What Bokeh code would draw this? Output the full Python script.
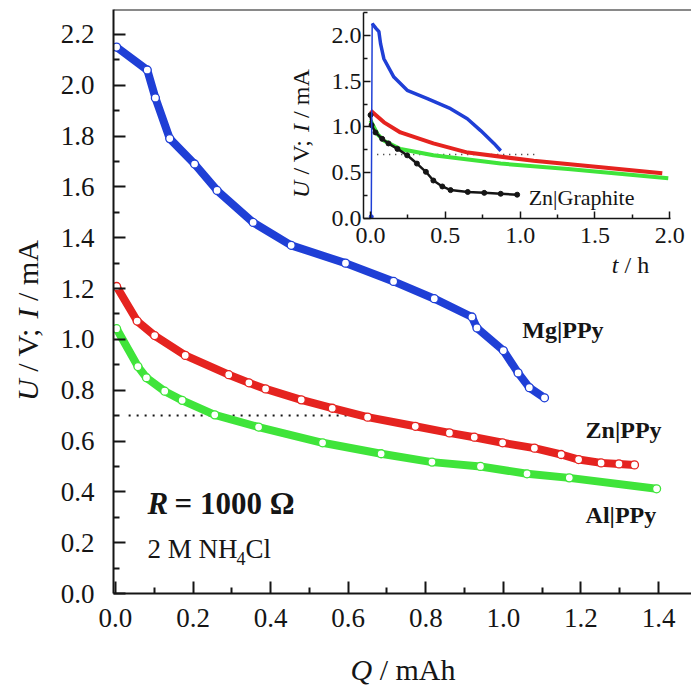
import math
from bokeh.plotting import figure
from bokeh.models import Range1d, FixedTicker, PrintfTickFormatter, Label, Span
from bokeh.layouts import column
from bokeh.embed import file_html
from bokeh.resources import INLINE

# ---- main panel: discharge curves, U vs Q ----
q_mg = [0.003, 0.082, 0.103, 0.14, 0.204, 0.262, 0.355, 0.453, 0.593, 0.717, 0.822, 0.919, 0.932, 1.0, 1.038, 1.067, 1.106]
u_mg = [2.15, 2.06, 1.95, 1.79, 1.69, 1.586, 1.46, 1.37, 1.30, 1.228, 1.16, 1.088, 1.045, 0.956, 0.868, 0.81, 0.77]

q_zn = [0.003, 0.056, 0.101, 0.18, 0.292, 0.344, 0.387, 0.479, 0.559, 0.65, 0.773, 0.861, 0.925, 0.998, 1.08, 1.149, 1.194, 1.252, 1.298, 1.338]
u_zn = [1.208, 1.072, 1.015, 0.937, 0.861, 0.829, 0.805, 0.762, 0.729, 0.694, 0.658, 0.632, 0.615, 0.593, 0.572, 0.547, 0.527, 0.514, 0.51, 0.506]

q_al = [0.003, 0.058, 0.08, 0.127, 0.172, 0.256, 0.369, 0.534, 0.685, 0.816, 0.941, 1.061, 1.17, 1.395]
u_al = [1.042, 0.893, 0.849, 0.796, 0.76, 0.703, 0.655, 0.593, 0.55, 0.517, 0.5, 0.471, 0.455, 0.412]

# cut-off voltage guide
q_cut = [0.034, 0.67]
u_cut = [0.70, 0.70]

x_ticks = [0.0, 0.2, 0.4, 0.6, 0.8, 1.0, 1.2, 1.4]
x_minor = [0.1, 0.3, 0.5, 0.7, 0.9, 1.1, 1.3]
y_ticks = [0.0, 0.2, 0.4, 0.6, 0.8, 1.0, 1.2, 1.4, 1.6, 1.8, 2.0, 2.2]
y_minor = [0.1, 0.3, 0.5, 0.7, 0.9, 1.1, 1.3, 1.5, 1.7, 1.9, 2.1]

# ---- inset: U and I vs time ----
t_mg = [0.005, 0.011, 0.035, 0.056, 0.067, 0.089, 0.156, 0.245, 0.38, 0.535, 0.647, 0.736, 0.825, 0.87]
v_mg = [0.02, 2.13, 2.08, 2.04, 1.91, 1.745, 1.545, 1.40, 1.31, 1.20, 1.09, 0.96, 0.82, 0.74]

t_zn = [0.0, 0.09, 0.2, 0.42, 0.65, 1.09, 1.54, 1.95]
v_zn = [1.18, 1.05, 0.94, 0.82, 0.72, 0.63, 0.56, 0.495]

t_al = [0.0, 0.047, 0.09, 0.2, 0.42, 0.87, 1.32, 1.99]
v_al = [1.07, 0.92, 0.85, 0.76, 0.69, 0.60, 0.54, 0.44]

t_gr = [0.0, 0.007, 0.033, 0.078, 0.12, 0.18, 0.245, 0.31, 0.37, 0.42, 0.48, 0.535, 0.65, 0.76, 0.87, 0.98]
v_gr = [1.13, 1.02, 0.94, 0.87, 0.82, 0.76, 0.69, 0.60, 0.51, 0.415, 0.35, 0.31, 0.29, 0.28, 0.27, 0.26]

t_cut = [0.045, 1.115]
v_cut = [0.70, 0.70]

t_ticks = [0.0, 0.5, 1.0, 1.5, 2.0]
t_minor = [0.25, 0.75, 1.25, 1.75]
v_ticks = [0.0, 0.5, 1.0, 1.5, 2.0]
v_minor = [0.25, 0.75, 1.25, 1.75, 2.25]

BLUE = "#1f3fd6"
RED = "#e5231f"
GREEN = "#3fe43a"
INK = "#151515"
SERIF = "Liberation Serif"

Y_TOP = 2.298
W, H = 691, 695


def bare(fig):
    fig.grid.visible = False
    fig.outline_line_color = None
    fig.background_fill_color = None
    fig.border_fill_color = None
    fig.background_fill_alpha = 0
    fig.border_fill_alpha = 0
    fig.frame_align = False


def style_axis(ax, ticks, minor, size, major_in, minor_in, standoff, lw):
    ax.ticker = FixedTicker(ticks=ticks, minor_ticks=minor)
    ax.formatter = PrintfTickFormatter(format="%.1f")
    ax.axis_line_color = INK
    ax.axis_line_width = lw
    ax.major_tick_line_color = INK
    ax.major_tick_line_width = lw
    ax.minor_tick_line_color = INK
    ax.minor_tick_line_width = lw
    ax.major_tick_in = major_in
    ax.major_tick_out = 0
    ax.minor_tick_in = minor_in
    ax.minor_tick_out = 0
    ax.major_label_text_font = SERIF
    ax.major_label_text_font_size = size
    ax.major_label_text_color = INK
    ax.major_label_standoff = standoff


def lab(fig, x, y, text, size, style="normal", units="data", angle=0.0, align="left"):
    fig.add_layout(Label(x=x, y=y, x_units=units, y_units=units, text=text, angle=angle,
                         text_font=SERIF, text_font_size=size, text_font_style=style,
                         text_color=INK, text_align=align, text_baseline="middle"))


# ---------------- main figure ----------------
p = figure(width=W, height=H, x_range=Range1d(-0.005, 1.485), y_range=Range1d(0, Y_TOP),
           output_backend="svg", toolbar_location=None,
           min_border_left=113, min_border_right=0, min_border_top=9, min_border_bottom=102)
bare(p)
p.background_fill_color = "white"
p.background_fill_alpha = 1
p.border_fill_color = "white"
p.border_fill_alpha = 1

style_axis(p.xaxis[0], x_ticks, x_minor, "27px", 12, 6, 15, 2)
style_axis(p.yaxis[0], y_ticks, y_minor, "27px", 12, 6, 19, 2)

p.add_layout(Span(location=Y_TOP, dimension="width", line_color=INK, line_width=2))

p.line(q_cut, u_cut, line_color=INK, line_width=2, line_dash="2 6")

for qs, us, col in ((q_al, u_al, GREEN), (q_zn, u_zn, RED), (q_mg, u_mg, BLUE)):
    p.line(qs, us, line_color=col, line_width=8, line_join="round", line_cap="round")
    p.scatter(qs, us, marker="circle", size=8, fill_color="white", line_color=col, line_width=1.3)

# series names
lab(p, 1.049, 1.035, "Mg|PPy", "24px", "bold")
lab(p, 1.212, 0.645, "Zn|PPy", "24px", "bold")
lab(p, 1.212, 0.307, "Al|PPy", "24px", "bold")

# load and electrolyte
lab(p, 34, 90, "R", "31px", "bold italic", units="screen")
lab(p, 61, 90, "= 1000 Ω", "31px", "bold", units="screen")
lab(p, 34, 45, "2 M NH", "27px", units="screen")
lab(p, 123, 35, "4", "18px", units="screen")
lab(p, 132, 45, "Cl", "27px", units="screen")

# ---------------- inset ----------------
q = figure(width=411, height=290, x_range=Range1d(-0.047, 2.005), y_range=Range1d(0, 2.25),
           output_backend="svg", toolbar_location=None,
           min_border_left=83, min_border_right=21, min_border_top=12, min_border_bottom=72)
bare(q)

style_axis(q.xaxis[0], t_ticks, t_minor, "24px", 7, 4, 9, 1.5)
style_axis(q.yaxis[0], v_ticks, v_minor, "24px", 7, 4, 2, 1.5)

q.line(t_cut, v_cut, line_color=INK, line_width=1.5, line_dash="1 5")
q.line(t_al, v_al, line_color=GREEN, line_width=4)
q.line(t_zn, v_zn, line_color=RED, line_width=4)
q.line(t_gr, v_gr, line_color=INK, line_width=2.5)
q.scatter(t_gr, v_gr, marker="circle", size=5, fill_color=INK, line_color=INK)
q.line(t_mg, v_mg, line_color=BLUE, line_width=1.5)
q.line(t_mg[1:], v_mg[1:], line_color=BLUE, line_width=3.5, line_join="round")
q.scatter(t_mg[:1], v_mg[:1], marker="circle", size=4, fill_color=BLUE, line_color=BLUE)

lab(q, 1.057, 0.23, "Zn|Graphite", "22px")

# ---------------- axis titles (page-pixel overlay) ----------------
o = figure(width=W, height=H, x_range=Range1d(0, W), y_range=Range1d(H, 0),
           x_axis_location=None, y_axis_location=None, min_border=0,
           output_backend="svg", toolbar_location=None)
bare(o)

R90 = math.pi / 2
# main x title
lab(o, 350, 669, "Q", "30px", "italic")
lab(o, 379.2, 669, "/ mAh", "30px")
# main y title
lab(o, 27, 400.4, "U", "30px", "italic", angle=R90)
lab(o, 27, 371.2, "/ V;", "30px", angle=R90)
lab(o, 27, 317.9, "I", "30px", "italic", angle=R90)
lab(o, 27, 300.4, "/ mA", "30px", angle=R90)
# inset x title
lab(o, 611.3, 264, "t", "24px", "italic")
lab(o, 624, 264, "/ h", "24px")
# inset y title
lab(o, 300, 197.4, "U", "24px", "italic", angle=R90)
lab(o, 300, 174.1, "/ V;", "24px", angle=R90)
lab(o, 300, 131.4, "I", "24px", "italic", angle=R90)
lab(o, 300, 117.4, "/ mA", "24px", angle=R90)

q.styles = {"position": "absolute", "left": "280px", "top": "0px"}
o.styles = {"position": "absolute", "left": "0px", "top": "0px"}
root = column(p, q, o, styles={"position": "relative"})

open("out.html", "w").write(file_html(root, INLINE))
